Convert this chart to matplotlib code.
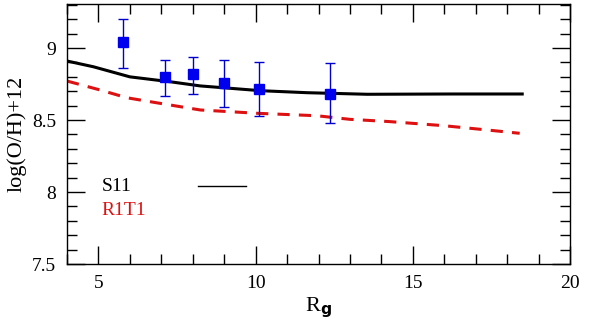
import matplotlib
matplotlib.use("Agg")
import matplotlib.pyplot as plt
from matplotlib.ticker import MultipleLocator

# Observed points
obs_x = [5.77, 7.12, 8.02, 8.98, 10.11, 12.35]
obs_y = [9.04, 8.80, 8.82, 8.755, 8.714, 8.683]
obs_err_hi = [9.20, 8.92, 8.94, 8.915, 8.903, 8.894]
obs_err_lo = [8.86, 8.665, 8.683, 8.593, 8.53, 8.477]

# Model S11 (black solid)
s11_x = [4.0, 4.84, 6.0, 7.28, 8.24, 10.15, 11.63, 13.55, 16.2, 18.48]
s11_y = [8.91, 8.87, 8.80, 8.766, 8.737, 8.704, 8.69, 8.679, 8.681, 8.681]

# Model R1T1 (red dashed)
r_x = [4.0, 5.05, 5.9, 6.96, 8.24, 9.19, 10.04, 11.95, 13.0, 14.28, 15.98, 17.37, 18.4]
r_y = [8.771, 8.709, 8.655, 8.616, 8.57, 8.558, 8.547, 8.53, 8.505, 8.489, 8.461, 8.431, 8.408]

plt.rcParams['font.family'] = ['Liberation Serif', 'DejaVu Serif']

fig = plt.figure(figsize=(6, 3.24), dpi=100)
ax = fig.add_axes([0.1117, 0.185, 0.8383, 0.8027])

ax.plot(s11_x, s11_y, color='black', lw=2.2)
ax.plot(r_x, r_y, color='#dd1111', lw=2.2, ls=(0, (4, 3)))

yerr = [[y - lo for y, lo in zip(obs_y, obs_err_lo)],
        [hi - y for y, hi in zip(obs_y, obs_err_hi)]]
ax.errorbar(obs_x, obs_y, yerr=yerr, fmt='s', color='#0000ee', ms=7,
            ecolor='#0000cc', elinewidth=1, capsize=3.5, capthick=1, zorder=5)

ax.set_xlim(4, 20)
ax.set_ylim(7.5, 9.306)
ax.xaxis.set_major_locator(MultipleLocator(5))
ax.xaxis.set_minor_locator(MultipleLocator(1))
ax.yaxis.set_major_locator(MultipleLocator(0.5))
ax.yaxis.set_minor_locator(MultipleLocator(0.1))
ax.tick_params(which='both', direction='in', top=True, right=True, labelsize=14, width=1)
ax.tick_params(which='major', length=13, pad=8)
ax.tick_params(which='minor', length=7)
ax.set_yticks([7.5, 8, 8.5, 9])
ax.set_yticklabels(['7.5', '8', '8.5', '9'])
for s in ax.spines.values():
    s.set_linewidth(1)

ax.text(5.1, 8.04, 'S11', fontsize=14, color='black', va='center')
ax.plot([8.17, 9.7], [8.04, 8.04], color='black', lw=1)
ax.text(5.1, 7.875, 'R1T1', fontsize=14, color='#dd1111', va='center')

ax.set_xlabel(r'R$_\mathbf{g}$', fontsize=16, labelpad=2)
ax.set_ylabel('log(O/H)+12', fontsize=16, labelpad=4)

fig.savefig('out.png', dpi=100)
